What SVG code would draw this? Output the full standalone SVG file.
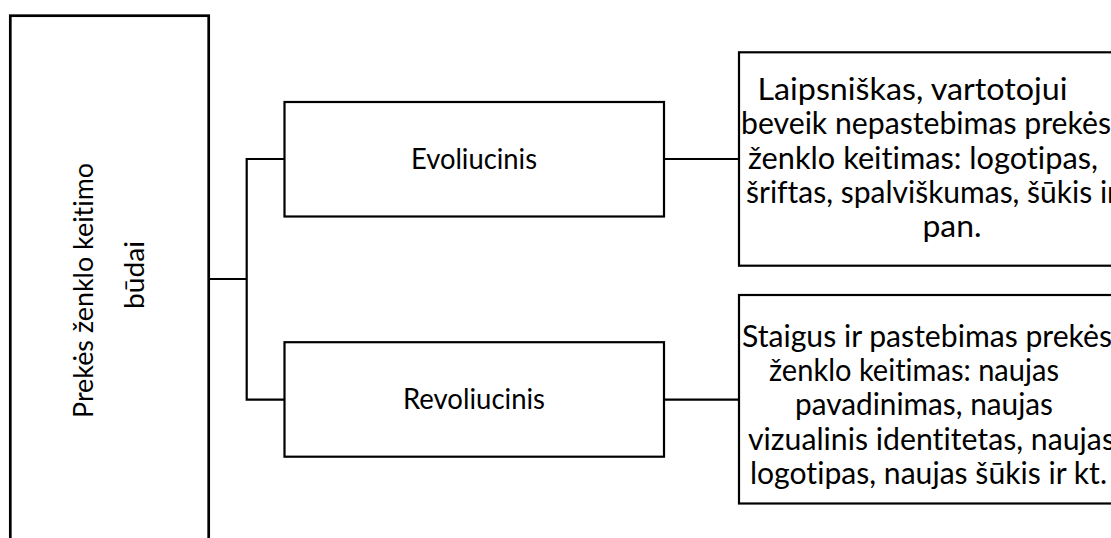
<svg xmlns="http://www.w3.org/2000/svg" width="1111" height="538" viewBox="0 0 1111 538">
  <style>
    .box { fill: #ffffff; stroke: #000000; stroke-width: 2.2; }
    .main { fill: #ffffff; stroke: #000000; stroke-width: 2.7; }
    .wire { fill: none; stroke: #000000; stroke-width: 2.2; }
    text { font-family: Lato, "Open Sans", "Liberation Sans", sans-serif; fill: #000000; font-variant-ligatures: none; font-feature-settings: "liga" 0, "clig" 0; }
    .t-left { font-size: 27px; }
    .t-mid { font-size: 28px; }
    .t-right { font-size: 30.5px; }
  </style>
  <rect width="1111" height="538" fill="#ffffff"/>

  <!-- connectors -->
  <g id="connectors">
    <path class="wire" d="M209,279 H246.7"/>
    <path class="wire" d="M284.5,159 H246.7 V399.6 H284.5"/>
    <path class="wire" d="M664,159 H739"/>
    <path class="wire" d="M664,399.6 H739"/>
  </g>

  <!-- root node, runs past the lower edge -->
  <g id="node-root">
    <rect class="main" x="10.3" y="15.7" width="198.4" height="600"/>
    <text class="t-left" transform="translate(93.3,290.5) rotate(-90)" text-anchor="middle" textLength="255" lengthAdjust="spacingAndGlyphs">Prekės ženklo keitimo</text>
    <text class="t-left" transform="translate(144.3,275) rotate(-90)" text-anchor="middle" textLength="68" lengthAdjust="spacingAndGlyphs">būdai</text>
  </g>

  <g id="node-evoliucinis">
    <rect class="box" x="284.5" y="102" width="379.5" height="114.5"/>
    <text class="t-mid" x="474" y="168.5" text-anchor="middle" textLength="126" lengthAdjust="spacingAndGlyphs">Evoliucinis</text>
  </g>

  <g id="node-revoliucinis">
    <rect class="box" x="284.5" y="342.2" width="379.5" height="114.5"/>
    <text class="t-mid" x="474" y="409" text-anchor="middle" textLength="142" lengthAdjust="spacingAndGlyphs">Revoliucinis</text>
  </g>

  <!-- description boxes, cut off by the right edge -->
  <g id="node-evoliucinis-desc">
    <rect class="box" x="739" y="52.3" width="420" height="213.4"/>
    <text class="t-right" x="912.5" y="100" text-anchor="middle" textLength="310" lengthAdjust="spacingAndGlyphs">Laipsniškas, vartotojui</text>
    <text class="t-right" x="741" y="134.3" textLength="370" lengthAdjust="spacingAndGlyphs">beveik nepastebimas prekės</text>
    <text class="t-right" x="923" y="168.5" text-anchor="middle" textLength="350" lengthAdjust="spacingAndGlyphs">ženklo keitimas: logotipas,</text>
    <text class="t-right" x="746" y="202.8" textLength="372" lengthAdjust="spacingAndGlyphs">šriftas, spalviškumas, šūkis ir</text>
    <text class="t-right" x="952" y="237" text-anchor="middle" textLength="59" lengthAdjust="spacingAndGlyphs">pan.</text>
  </g>

  <g id="node-revoliucinis-desc">
    <rect class="box" x="739" y="295" width="420" height="208.5"/>
    <text class="t-right" x="742" y="346.7" textLength="370" lengthAdjust="spacingAndGlyphs">Staigus ir pastebimas prekės</text>
    <text class="t-right" x="914" y="381" text-anchor="middle" textLength="290" lengthAdjust="spacingAndGlyphs">ženklo keitimas: naujas</text>
    <text class="t-right" x="924" y="415.3" text-anchor="middle" textLength="258" lengthAdjust="spacingAndGlyphs">pavadinimas, naujas</text>
    <text class="t-right" x="748" y="449.6" textLength="367" lengthAdjust="spacingAndGlyphs">vizualinis identitetas, naujas</text>
    <text class="t-right" x="928.5" y="484" text-anchor="middle" textLength="357" lengthAdjust="spacingAndGlyphs">logotipas, naujas šūkis ir kt.</text>
  </g>
</svg>
